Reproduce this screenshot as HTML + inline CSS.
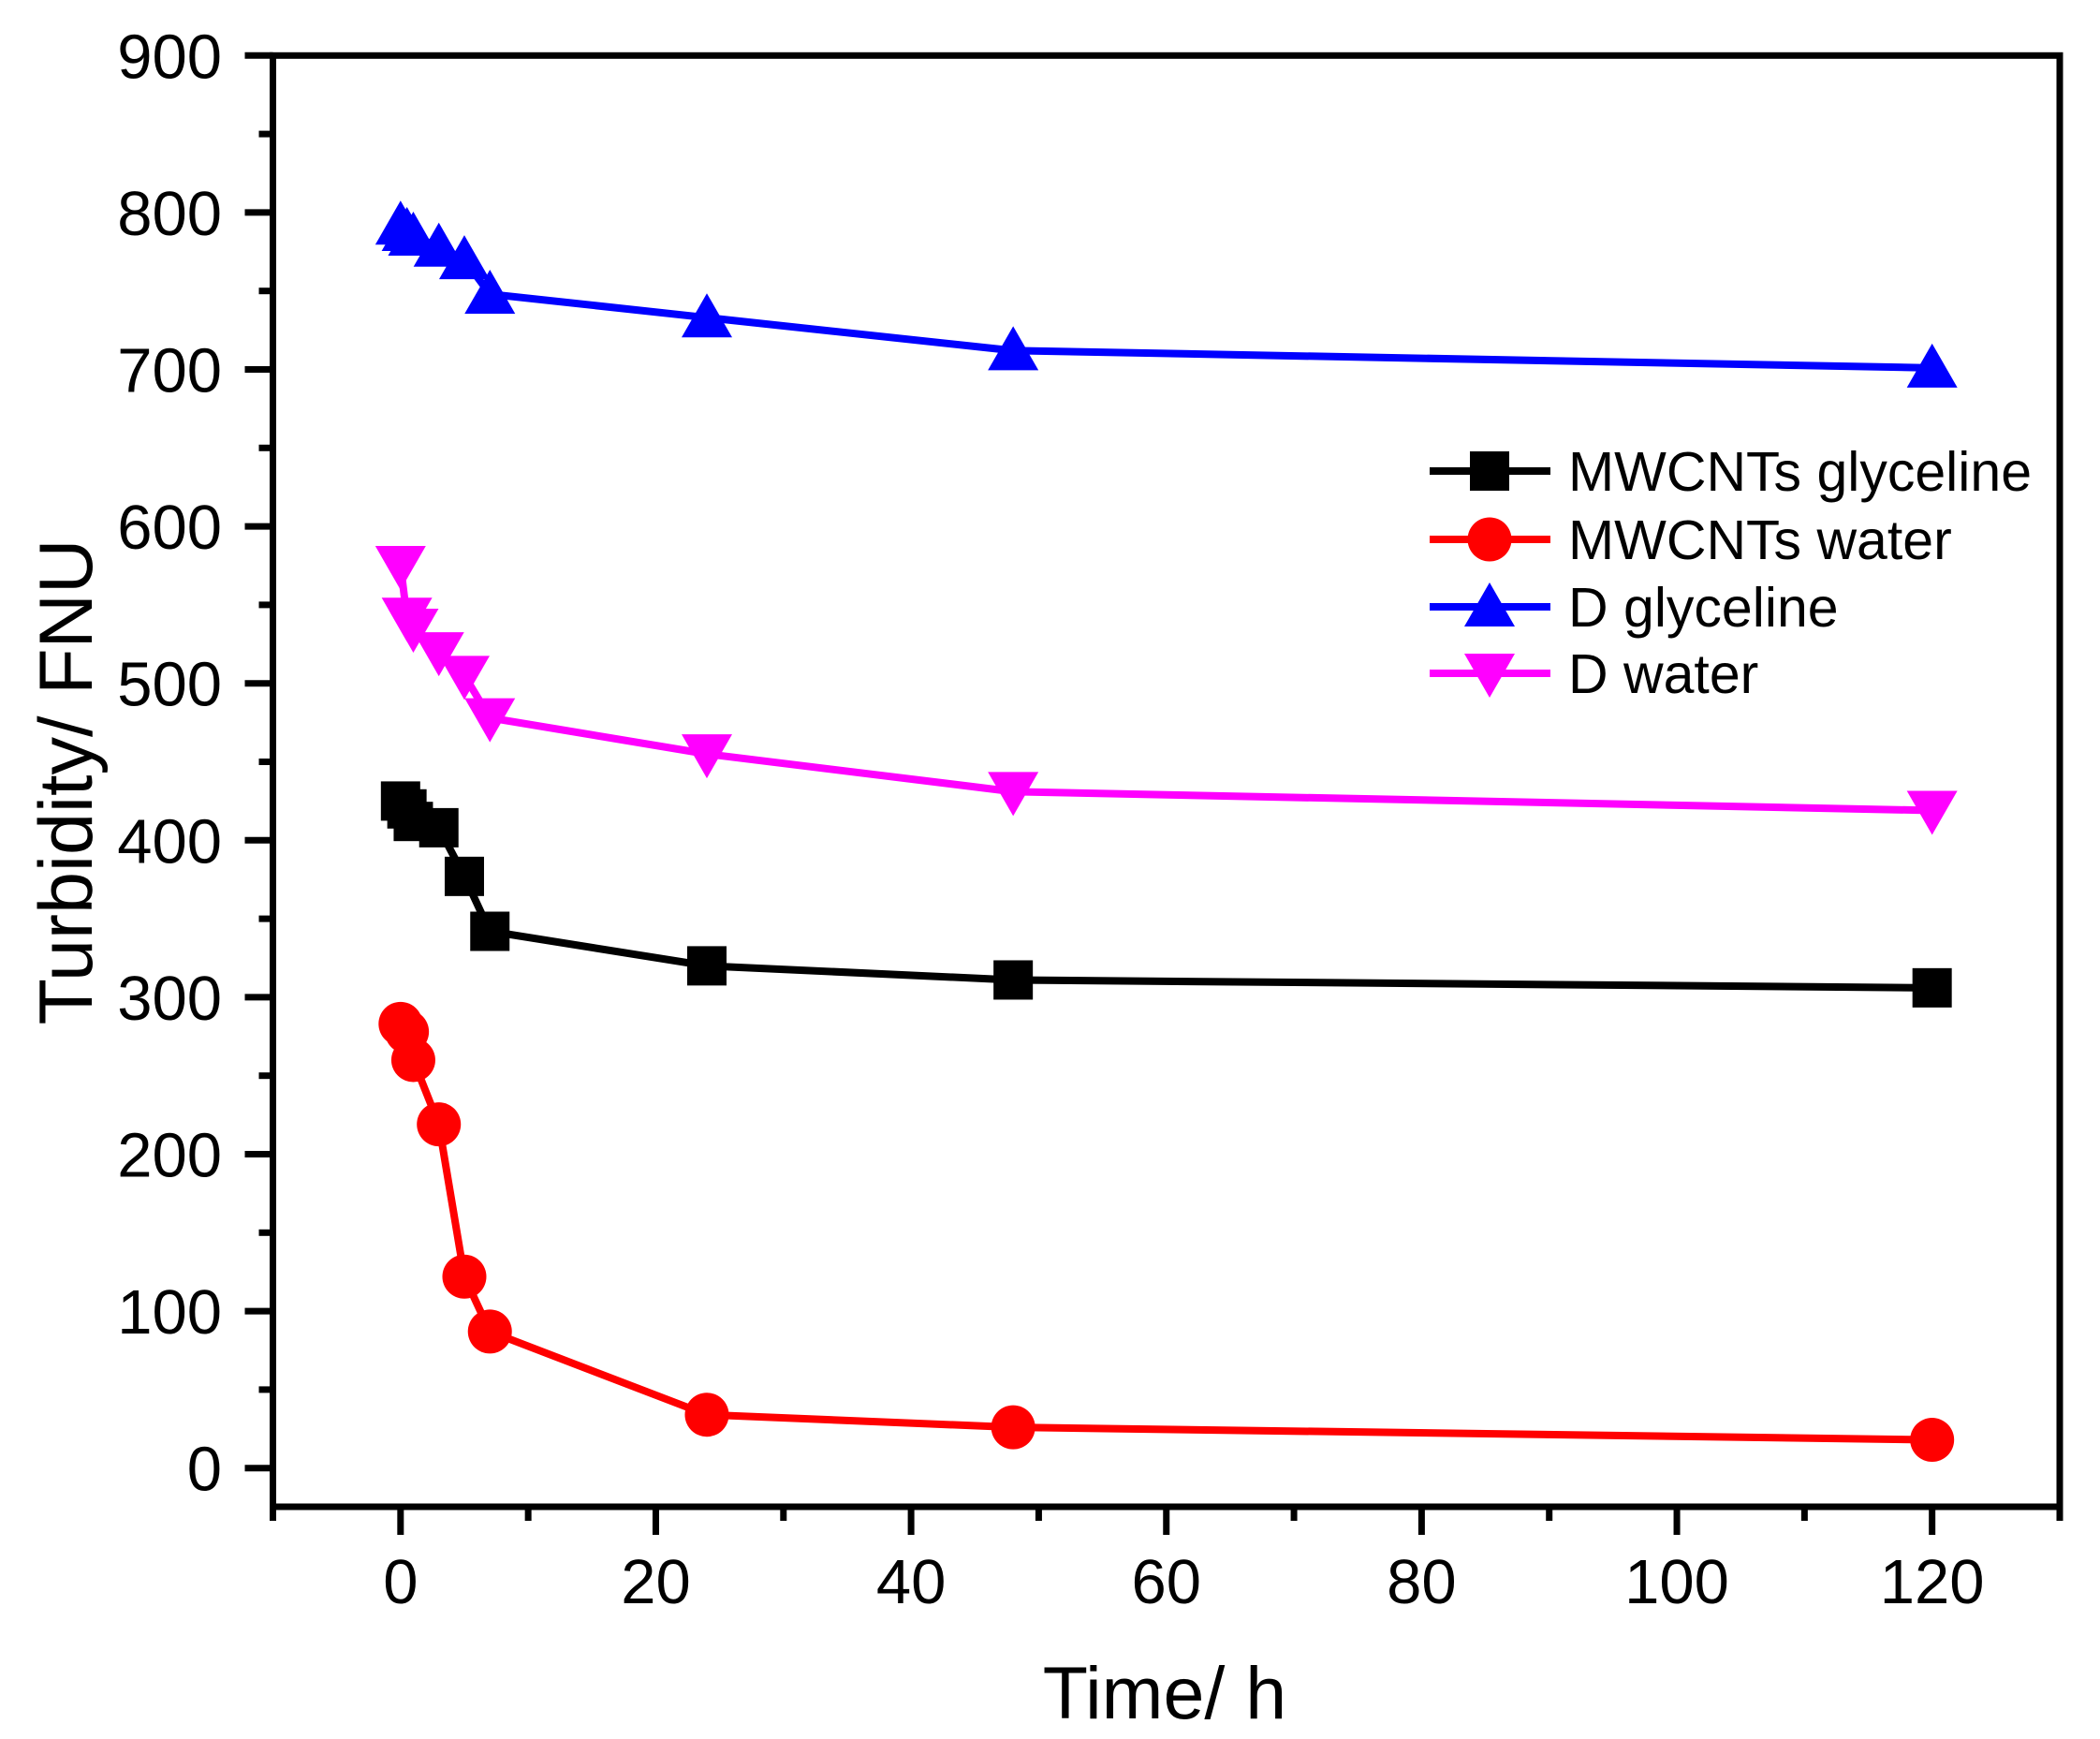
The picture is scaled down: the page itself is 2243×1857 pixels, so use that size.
<!DOCTYPE html>
<html><head><meta charset="utf-8"><style>
html,body{margin:0;padding:0;background:#fff;}
svg{display:block;font-family:"Liberation Sans",Arial,sans-serif;}
</style></head><body>
<svg id="chart" width="2243" height="1857" viewBox="0 0 2243 1857" xmlns="http://www.w3.org/2000/svg">
<g id="axes"></g>
<g id="series"></g>
<g id="legend"></g>
<text x="1244" y="1835" font-size="79" text-anchor="middle">Time/ h</text>
<text transform="translate(98,835) rotate(-90)" font-size="81" text-anchor="middle">Turbidity/ FNU</text>
</svg>
<script>
const times = [0, 0.5, 1, 3, 5, 7, 24, 48, 120];
const mwcntsGlyceline = [425, 420, 412, 408, 377, 342, 320, 311, 306];
const mwcntsWater = [283, 278, 260, 219, 122, 87, 34, 26, 18];
const dGlyceline = [792, 788, 785, 778, 770, 748, 733, 712, 701];
const dWater = [575, 542, 535, 520, 505, 478, 455, 431, 419];
const seriesNames = ["MWCNTs glyceline", "MWCNTs water", "D glyceline", "D water"];
const xTicks = [0, 20, 40, 60, 80, 100, 120];
const yTicks = [0, 100, 200, 300, 400, 500, 600, 700, 800, 900];

const NS = "http://www.w3.org/2000/svg";
const X0 = 291.5, X1 = 2200, XMIN = -10, XMAX = 130;
const YZ = 1567.7, YPER = 1.676;
const YAX = 1609, YTOP = 59.3;
function sx(v){ return X0 + (v - XMIN) / (XMAX - XMIN) * (X1 - X0); }
function sy(v){ return YZ - v * YPER; }
function mk(tag, attrs, parent){ const e = document.createElementNS(NS, tag); for (const k in attrs) e.setAttribute(k, attrs[k]); parent.appendChild(e); return e; }

const axes = document.getElementById('axes');
const frame = mk('rect', {x: X0, y: YTOP, width: X1 - X0, height: YAX - YTOP, fill: 'none', stroke: '#000', 'stroke-width': 7}, axes);



yTicks.forEach(v => {
  const t = mk('line', {x1: X0 - 30, x2: X0, y1: sy(v), y2: sy(v), stroke: '#000', 'stroke-width': 7}, axes);
  
  
  const l = mk('text', {x: 237, y: sy(v) + 24, 'font-size': 67, 'text-anchor': 'end'}, axes);
  l.textContent = v;
  
  
  if (v < 900) {
    const m = mk('line', {x1: X0 - 15, x2: X0, y1: sy(v + 50), y2: sy(v + 50), stroke: '#000', 'stroke-width': 7}, axes);
    
    
  }
});

for (let v = -10; v <= 130; v += 10) {
  const major = xTicks.includes(v);
  const t = mk('line', {x1: sx(v), x2: sx(v), y1: YAX, y2: YAX + (major ? 30 : 15), stroke: '#000', 'stroke-width': 7}, axes);
  
  
}
xTicks.forEach(v => {
  const l = mk('text', {x: sx(v), y: 1712, 'font-size': 67, 'text-anchor': 'middle'}, axes);
  l.textContent = v;
  
  
});

function marker(kind, cx, cy, color, parent){
  let e;
  if (kind === 'square') e = mk('rect', {x: cx - 21, y: cy - 21, width: 42, height: 42, fill: color}, parent);
  else if (kind === 'circle') e = mk('circle', {cx: cx, cy: cy, r: 23.5, fill: color}, parent);
  else if (kind === 'up') e = mk('polygon', {points: `${cx},${cy-26} ${cx+27},${cy+21} ${cx-27},${cy+21}`, fill: color}, parent);
  else e = mk('polygon', {points: `${cx},${cy+26} ${cx+27},${cy-21} ${cx-27},${cy-21}`, fill: color}, parent);
  return e;
}

const seriesData = [mwcntsGlyceline, mwcntsWater, dGlyceline, dWater];
const colors = ['#000000', '#ff0000', '#0000ff', '#ff00ff'];
const kinds = ['square', 'circle', 'up', 'down'];
const sg = document.getElementById('series');
seriesData.forEach((vals, i) => {
  const g = mk('g', {}, sg);
  
  
  const pl = mk('polyline', {points: times.map((t, j) => sx(t) + ',' + sy(vals[j])).join(' '), fill: 'none', stroke: colors[i], 'stroke-width': 8}, g);
  
  
  times.forEach((t, j) => {
    const m = marker(kinds[i], sx(t), sy(vals[j]), colors[i], g);
    
    
  });
});

const lg = document.getElementById('legend');
const rows = [503, 576, 648, 719];
seriesNames.forEach((n, i) => {
  const g = mk('g', {}, lg);
  
  
  const ln = mk('line', {x1: 1527, x2: 1656, y1: rows[i], y2: rows[i], stroke: colors[i], 'stroke-width': 8}, g);
  
  
  const m = marker(kinds[i], 1591, rows[i], colors[i], g);
  
  
  const tx = mk('text', {x: 1675, y: rows[i] + 21, 'font-size': 59}, g);
  tx.textContent = n;
  
  
});
</script>
</body></html>
